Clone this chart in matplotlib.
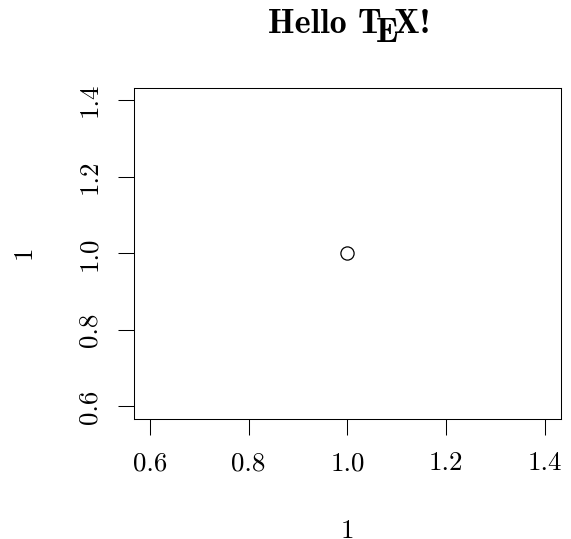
import matplotlib
matplotlib.use("Agg")
import matplotlib.pyplot as plt

# data
x = [1.0]
y = [1.0]
xticks = [0.6, 0.8, 1.0, 1.2, 1.4]
yticks = [0.6, 0.8, 1.0, 1.2, 1.4]
tick_labels = ["0.6", "0.8", "1.0", "1.2", "1.4"]

plt.rcParams['font.family'] = ['cmr10', 'DejaVu Serif']
plt.rcParams['axes.formatter.use_mathtext'] = True

fig = plt.figure(figsize=(5.71, 5.39), dpi=100)
ax = fig.add_axes([134/571, (539-418.7)/539, (560.7-134)/571, 330.7/539])

ax.plot(x, y, 'o', mfc='none', mec='black', ms=9.5, mew=0.9)
ax.set_xlim(0.568, 1.432)
ax.set_ylim(0.568, 1.432)

ax.set_xticks(xticks)
ax.set_xticklabels(tick_labels)
ax.set_yticks(yticks)
ax.set_yticklabels(tick_labels, rotation=90, va='center')
ax.tick_params(direction='out', length=11.5, width=0.75, labelsize=19.4, pad=12)
for s in ax.spines.values():
    s.set_linewidth(0.75)

ax.set_xlabel("1", fontsize=19.4)
ax.xaxis.set_label_coords(0.5, -0.305)
# y label, rotated like R's
fig.text(24/571, 1-252/539, "1", fontsize=19.4, rotation=90, ha='center', va='center')

# title with TeX logo: T, lowered E, X
fs = 24.5
t1 = fig.text(268/571, 1-33/539, "Hello T", fontsize=fs, family='cmb10', ha='left', va='baseline')
t2 = ax.annotate("E", xy=(1, 0), xycoords=t1, xytext=(-0.1667*fs, -6.5), textcoords='offset points',
                 fontsize=fs, family='cmb10', ha='left', va='bottom', annotation_clip=False)
t3 = ax.annotate("X!", xy=(1, 0), xycoords=t2, xytext=(-0.125*fs, 6.5), textcoords='offset points',
                 fontsize=fs, family='cmb10', ha='left', va='bottom', annotation_clip=False)

fig.savefig("out.png", dpi=100)
